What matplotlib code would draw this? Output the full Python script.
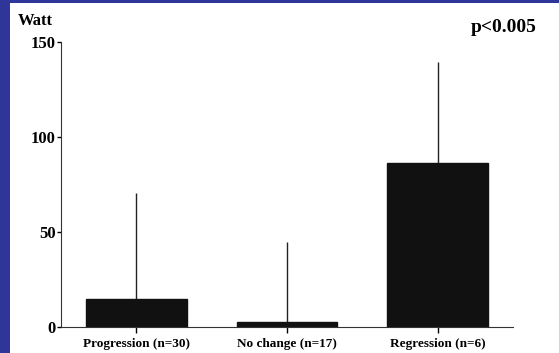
import numpy as np
import matplotlib
matplotlib.use('Agg')
from matplotlib import pyplot as plt
from matplotlib.patches import Rectangle

## Data

groups = ['Progression (n=30)', 'No change (n=17)', 'Regression (n=6)']
watt_mean = [14.5, 2.5, 86.5]
watt_sd = [56, 42.5, 53]
y_ticks = [0, 50, 100, 150]

plt.rcParams['font.family'] = ['Liberation Serif', 'DejaVu Serif']
plt.rcParams['font.weight'] = 'bold'

fig = plt.figure(figsize=(5.59, 3.53), dpi=100)
fig.patch.set_facecolor('#2f3599')
# white slide panel inside the blue frame
fig.patches.append(Rectangle((10/559, 0), 1, (353-3)/353, transform=fig.transFigure,
                             facecolor='white', edgecolor='none', zorder=-5))

ax = fig.add_axes([61/559, 26/353, (513-61)/559, (327-42)/353])
ax.set_facecolor('none')

x = np.arange(len(groups))
ax.bar(x, watt_mean, width=0.67, color='#111111', edgecolor='#111111', zorder=2)
# only the upper half of the error bar, no caps
ax.errorbar(x, watt_mean, yerr=[np.zeros(len(groups)), watt_sd], fmt='none',
            ecolor='#222222', elinewidth=1.0, capsize=0, zorder=1)

ax.set_xlim(-0.5, 2.5)
ax.set_ylim(0, 150)
ax.set_yticks(y_ticks)
ax.set_xticks(x)
ax.set_xticklabels(groups, fontsize=9.5, fontweight='bold')
ax.tick_params(axis='y', labelsize=12, length=3, width=1, pad=1)
ax.tick_params(axis='x', length=4, width=1, pad=4)
for lbl in ax.get_yticklabels():
	lbl.set_fontweight('bold')

ax.spines['top'].set_visible(False)
ax.spines['right'].set_visible(False)
ax.spines['left'].set_color('#333333')
ax.spines['bottom'].set_color('#333333')

fig.text(18/559, 1 - 21/353, 'Watt', fontsize=12, fontweight='bold', va='center', ha='left')
fig.text(537/559, 1 - 27/353, 'p<0.005', fontsize=14, fontweight='bold', va='center', ha='right')

fig.savefig('out.png', dpi=100, facecolor=fig.get_facecolor())
